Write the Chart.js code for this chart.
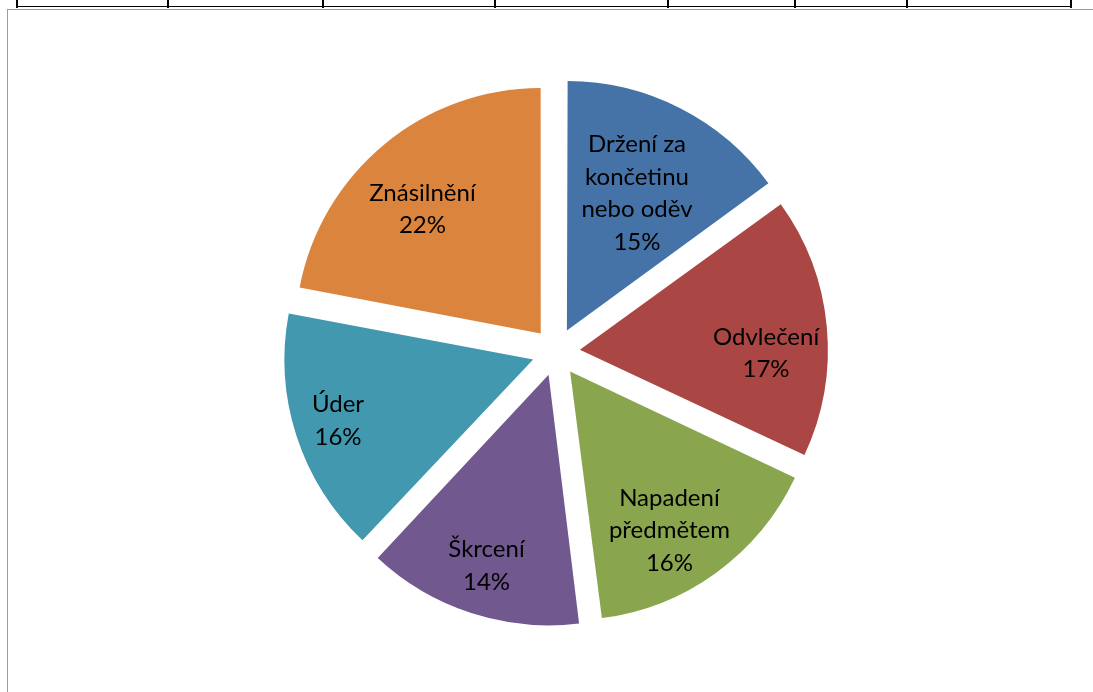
<!DOCTYPE html>
<html lang="cs">
<head>
<meta charset="utf-8">
<title>Fyzické napadení</title>
<script src="https://cdn.jsdelivr.net/npm/chart.js@4.4.1/dist/chart.umd.min.js"></script>
<style>
    html, body { margin: 0; padding: 0; background: #fff; }
    #page { position: relative; width: 1093px; height: 692px; overflow: hidden; }
    /* spodní okraj tabulky nad grafem */
    #tableRow { position: absolute; left: 17px; top: 0; width: 1055px; height: 6px;
        border-bottom: 1.5px solid #000; }
    .cell { position: absolute; top: 0; width: 1.5px; height: 7.5px; background: #000; }
    #frame { position: absolute; left: 7px; top: 9px; right: -10px; bottom: -10px;
        border-left: 1.5px solid #9c9c9c; border-top: 1.5px solid #9c9c9c; }
    #chartBox { position: absolute; left: 0; top: 0; width: 1093px; height: 692px; }
</style>
</head>
<body>
<div id="page">
    <div id="tableRow"></div>
    <div id="frame"></div>
    <div id="chartBox"><canvas id="attackChart"></canvas></div>
</div>
<script>
// Druhy napadení - podíl v procentech
const categories = [
    ['Držení za', 'končetinu', 'nebo oděv'],
    ['Odvlečení'],
    ['Napadení', 'předmětem'],
    ['Škrcení'],
    ['Úder'],
    ['Znásilnění']
];
const shares = [15, 17, 16, 14, 16, 22];
const sliceColors = ['#4572A7', '#AA4643', '#89A54E', '#71588F', '#4198AF', '#DB843D'];

// svislé čáry buněk tabulky
const cellEdges = [17, 168, 323, 495, 668, 795, 907, 1071];
const page = document.getElementById('page');
cellEdges.forEach(x => {
    const line = document.createElement('div');
    line.className = 'cell';
    line.style.left = (x - 0.75) + 'px';
    page.appendChild(line);
});

// umístění popisků: [podíl poloměru, posun úhlu ve stupních]
const labelPlacement = [
    [0.63, 0],
    [0.76, 6.5],
    [0.765, 4],
    [0.82, 0],
    [0.835, 0.5],
    [0.70, -4]
];

const sliceLabels = {
    id: 'sliceLabels',
    afterDatasetsDraw: function(chart) {
        const ctx = chart.ctx;
        const meta = chart.getDatasetMeta(0);
        const data = chart.data.datasets[0].data;
        const lineHeight = 32.5;

        ctx.save();
        ctx.font = '24px Lato, "Open Sans", sans-serif';
        ctx.fillStyle = '#000';
        ctx.textAlign = 'center';
        ctx.textBaseline = 'middle';

        meta.data.forEach((arc, i) => {
            const p = arc.getProps(['x', 'y', 'startAngle', 'endAngle', 'outerRadius'], true);
            const shift = (arc.options.offset || 0) / 4;
            const mid = (p.startAngle + p.endAngle) / 2;
            const place = labelPlacement[i];
            const angle = mid + place[1] * Math.PI / 180;
            const dist = p.outerRadius * place[0];
            const cx = p.x + Math.cos(mid) * shift + Math.cos(angle) * dist;
            const cy = p.y + Math.sin(mid) * shift + Math.sin(angle) * dist;

            const lines = chart.data.labels[i].concat([data[i] + '%']);
            const top = cy - (lines.length - 1) * lineHeight / 2;
            lines.forEach((text, j) => {
                ctx.fillText(text, cx, top + j * lineHeight);
            });
        });
        ctx.restore();
    }
};

const canvas = document.getElementById('attackChart');
new Chart(canvas.getContext('2d'), {
    type: 'pie',
    data: {
        labels: categories,
        datasets: [{
            data: shares,
            backgroundColor: sliceColors,
            borderWidth: 0,
            offset: 96,
            hoverOffset: 0,
            radius: 245
        }]
    },
    options: {
        responsive: true,
        maintainAspectRatio: false,
        animation: false,
        events: [],
        layout: {
            padding: { left: 60, right: 41, top: 40, bottom: 28 }
        },
        plugins: {
            legend: { display: false },
            tooltip: { enabled: false }
        }
    },
    plugins: [sliceLabels]
});
</script>
</body>
</html>
